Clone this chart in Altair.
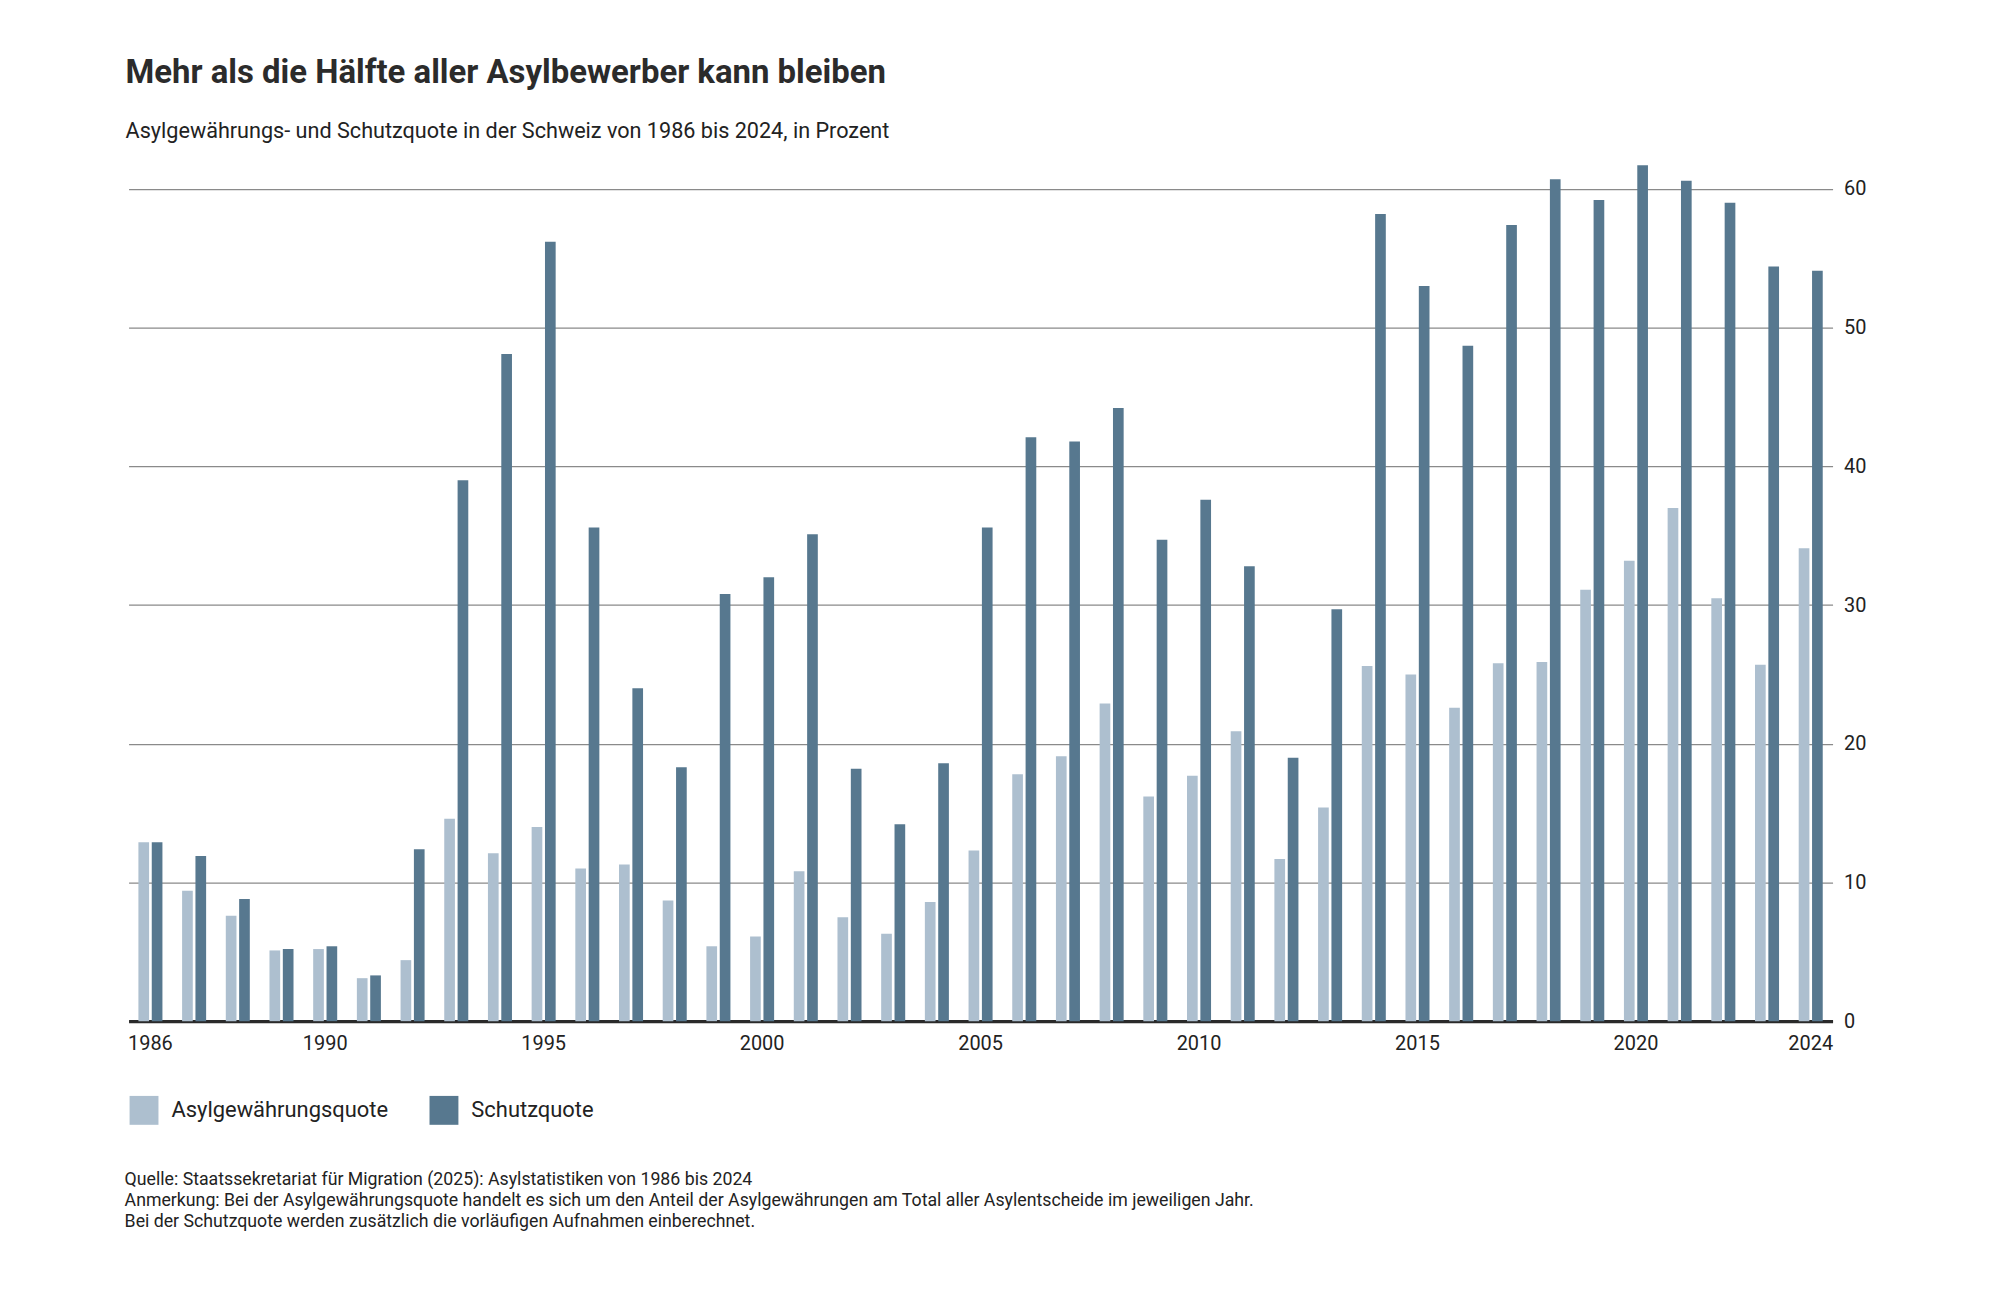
import altair as alt
import pandas as pd

years = list(range(1986, 2025))

asyl = [12.9, 9.4, 7.6, 5.1, 5.2, 3.1, 4.4, 14.6, 12.1, 14.0,
        11.0, 11.3, 8.7, 5.4, 6.1, 10.8, 7.5, 6.3, 8.6, 12.3,
        17.8, 19.1, 22.9, 16.2, 17.7, 20.9, 11.7, 15.4, 25.6, 25.0,
        22.6, 25.8, 25.9, 31.1, 33.2, 37.0, 30.5, 25.7, 34.1]

schutz = [12.9, 11.9, 8.8, 5.2, 5.4, 3.3, 12.4, 39.0, 48.1, 56.2,
          35.6, 24.0, 18.3, 30.8, 32.0, 35.1, 18.2, 14.2, 18.6, 35.6,
          42.1, 41.8, 44.2, 34.7, 37.6, 32.8, 19.0, 29.7, 58.2, 53.0,
          48.7, 57.4, 60.7, 59.2, 61.7, 60.6, 59.0, 54.4, 54.1]

series = ["Asylgewährungsquote", "Schutzquote"]
colors = ["#adbfcf", "#57788f"]
year_labels = [1986, 1990, 1995, 2000, 2005, 2010, 2015, 2020, 2024]
y_ticks = [0, 10, 20, 30, 40, 50, 60]

notes = [
    "Quelle: Staatssekretariat für Migration (2025): Asylstatistiken von 1986 bis 2024",
    "Anmerkung: Bei der Asylgewährungsquote handelt es sich um den Anteil der Asylgewährungen am Total aller Asylentscheide im jeweiligen Jahr.",
    "Bei der Schutzquote werden zusätzlich die vorläufigen Aufnahmen einberechnet.",
]

df = pd.DataFrame({
    "year": years * 2,
    "series": [series[0]] * len(years) + [series[1]] * len(years),
    "value": asyl + schutz,
})

FONT = "Roboto"
W, H = 1710, 863

bars = alt.Chart(df).mark_bar().encode(
    x=alt.X(
        "year:O",
        scale=alt.Scale(paddingInner=0.45, paddingOuter=0.225),
        axis=alt.Axis(
            values=year_labels, labelAngle=0, ticks=False, title="",
            domainColor="#2a2a2a", domainWidth=3.2, labelFontSize=20,
            labelColor="#222222", labelPadding=12, grid=False,
        ),
    ),
    xOffset=alt.XOffset(
        "series:N", sort=series,
        scale=alt.Scale(paddingInner=0.2, paddingOuter=0),
    ),
    y=alt.Y(
        "value:Q",
        scale=alt.Scale(domain=[0, 62], nice=False),
        axis=alt.Axis(
            orient="right", values=y_ticks, title="", domain=False, ticks=False,
            gridColor="#8a8a8a", gridWidth=1.2, labelFontSize=20,
            labelColor="#222222", labelPadding=11,
        ),
    ),
    color=alt.Color(
        "series:N",
        scale=alt.Scale(domain=series, range=colors),
        legend=alt.Legend(
            title="", orient="none", legendX=1, legendY=938,
            direction="horizontal", symbolType="square", symbolSize=841,
            symbolStrokeWidth=0, symbolOpacity=1, labelFontSize=22,
            labelColor="#222222", labelOffset=13, labelLimit=400,
            columnPadding=41,
        ),
    ),
)

footer = alt.Chart(pd.DataFrame({"t": [0]})).mark_text(
    align="left", baseline="alphabetic", fontSize=17.8, lineHeight=21.5,
    color="#222222", font=FONT,
).encode(
    x=alt.value(-4),
    y=alt.value(1027),
    text=alt.value(notes),
)

chart = alt.layer(bars, footer).properties(
    width=W,
    height=H,
    autosize=alt.AutoSizeParams(type="none"),
    padding={"left": 121, "top": 151.5, "right": 160, "bottom": 260},
    title=alt.TitleParams(
        text="Mehr als die Hälfte aller Asylbewerber kann bleiben",
        subtitle="Asylgewährungs- und Schutzquote in der Schweiz von 1986 bis 2024, in Prozent",
        anchor="start", frame="group", dx=-3, offset=18.5,
        font=FONT, fontSize=33, fontWeight="bold", color="#2b2b2b",
        subtitleFont=FONT, subtitleFontSize=21.7, subtitleColor="#222222",
        subtitlePadding=31.5,
    ),
).configure(font=FONT).configure_view(strokeWidth=0)

chart.save("out.html", embed_options={"renderer": "svg", "actions": False})
